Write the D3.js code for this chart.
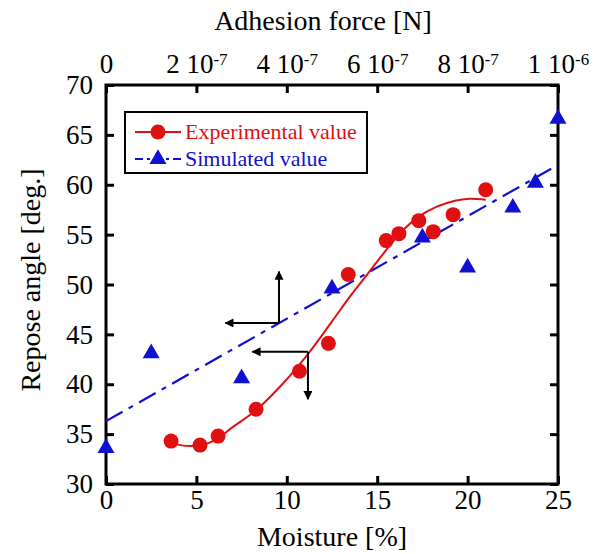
<!DOCTYPE html>
<html>
<head>
<meta charset="utf-8">
<script src="https://cdn.jsdelivr.net/npm/d3@7"></script>
<style>
  body { margin: 0; background: #fff; }
  svg text { font-family: "Liberation Serif", "DejaVu Serif", serif !important; }
</style>
</head>
<body>
<div id="chart-area"></div>
<script>
// SVG Size
let width = 605,
	height = 554;
let margin = {left: 106, top: 85, right: 47, bottom: 70};
let innerW = width - margin.left - margin.right,
	innerH = height - margin.top - margin.bottom;

// Experimental value (bottom axis: moisture [%])
let expMoisture = [3.6, 5.2, 6.2, 8.3, 10.7, 12.3, 13.4, 15.5, 16.2, 17.3, 18.1, 19.2, 21.0];
let expAngle = [34.3, 33.9, 34.8, 37.5, 41.3, 44.1, 51.0, 54.4, 55.1, 56.4, 55.3, 57.0, 59.5];

let fitMoisture = [3.6, 4.6, 5.5, 6.2, 7.0, 8.3, 9.8, 11.2, 12.5, 13.5, 14.4, 15.3, 16.3, 17.3, 18.3, 19.3, 20.1, 21.0];
let fitAngle = [34.1, 33.8, 34.0, 34.6, 35.7, 37.4, 40.1, 43.1, 46.3, 48.8, 50.9, 53.0, 55.2, 56.8, 57.8, 58.4, 58.6, 58.5];

// Simulated value (top axis: adhesion force [N])
let simForce = [0, 1.0e-7, 3.0e-7, 5.0e-7, 7.0e-7, 8.0e-7, 9.0e-7, 9.5e-7, 1.0e-6];
let simAngle = [33.8, 43.3, 40.8, 49.8, 54.9, 51.9, 57.9, 60.4, 66.8];

// linear fit of simulated value
let simFitForce = [0, 9.85e-7];
let simFitAngle = [36.3, 61.6];

// ticks
let moistureTicks = [0, 5, 10, 15, 20, 25];
let forceTicks = [0, 2e-7, 4e-7, 6e-7, 8e-7, 1e-6];
let angleTicks = [30, 35, 40, 45, 50, 55, 60, 65, 70];

// axis-direction arrows: [corner moisture, corner angle, tip moisture, tip angle]
let arrowsSim = [[9.57, 46.15, 6.6, 46.15], [9.57, 46.15, 9.57, 51.3]];
let arrowsExp = [[11.17, 43.25, 8.1, 43.25], [11.17, 43.25, 11.17, 38.5]];

let red = "#e01010",
	blue = "#1010d2";
let serif = "'Liberation Serif', 'DejaVu Serif', serif";

drawChart();

function drawChart() {
	let svg = d3.select("#chart-area")
		.append("svg")
		.attr("width", width)
		.attr("height", height)
		.attr("font-family", serif);

	let defs = svg.append("defs");
	defs.append("marker")
		.attr("id", "arrow")
		.attr("viewBox", "0 0 10 10")
		.attr("refX", 9)
		.attr("refY", 5)
		.attr("markerUnits", "userSpaceOnUse")
		.attr("markerWidth", 11)
		.attr("markerHeight", 9)
		.attr("orient", "auto")
		.append("path")
		.attr("d", "M0,0 L10,5 L0,10 z")
		.attr("fill", "#000");

	let g = svg.append("g")
		.attr("transform", "translate(" + margin.left + "," + margin.top + ")");

	let x = d3.scaleLinear().domain([0, 25]).range([0, innerW]);
	let xTop = d3.scaleLinear().domain([0, 1e-6]).range([0, innerW]);
	let y = d3.scaleLinear().domain([30, 70]).range([innerH, 0]);

	// axes
	let bottomAxis = g.append("g")
		.attr("transform", "translate(0," + innerH + ")")
		.call(d3.axisBottom(x).tickValues(moistureTicks).tickSize(-8).tickPadding(6));

	let leftAxis = g.append("g")
		.call(d3.axisLeft(y).tickValues(angleTicks).tickSize(-8).tickPadding(13));

	let topAxis = g.append("g")
		.call(d3.axisTop(xTop).tickValues(forceTicks).tickSize(-8).tickPadding(12));

	let rightAxis = g.append("g")
		.attr("transform", "translate(" + innerW + ",0)")
		.call(d3.axisRight(y).tickValues(angleTicks).tickSize(-8).tickFormat(""));

	[bottomAxis, leftAxis, topAxis, rightAxis].forEach(a => {
		a.attr("font-family", serif).attr("font-size", 27);
		a.select(".domain").remove();
		a.selectAll(".tick line").attr("stroke", "#000").attr("stroke-width", 3);
		a.selectAll(".tick text").attr("fill", "#000");
	});

	// top labels "m 10^e"
	topAxis.selectAll(".tick text").each(function(d) {
		let t = d3.select(this).text("");
		if (d === 0) { t.text("0"); return; }
		let e = Math.floor(Math.log10(d) + 1e-9);
		let m = Math.round(d / Math.pow(10, e));
		t.append("tspan").text(m + " 10");
		t.append("tspan").attr("dy", "-0.45em").attr("font-size", 17).text(e);
	});

	// frame
	g.append("rect")
		.attr("width", innerW)
		.attr("height", innerH)
		.attr("fill", "none")
		.attr("stroke", "#000")
		.attr("stroke-width", 3);

	// simulated linear fit (dash-dot)
	let simLine = d3.line()
		.x(d => xTop(d[0]))
		.y(d => y(d[1]));
	g.append("path")
		.datum(d3.zip(simFitForce, simFitAngle))
		.attr("d", simLine)
		.attr("fill", "none")
		.attr("stroke", blue)
		.attr("stroke-width", 2.2)
		.attr("stroke-dasharray", "19,7,5,7");

	// experimental fitted curve
	let expLine = d3.line()
		.x(d => x(d[0]))
		.y(d => y(d[1]))
		.curve(d3.curveCatmullRom);
	g.append("path")
		.datum(d3.zip(fitMoisture, fitAngle))
		.attr("d", expLine)
		.attr("fill", "none")
		.attr("stroke", red)
		.attr("stroke-width", 2);

	// arrows
	g.selectAll(".arrow")
		.data(arrowsSim.concat(arrowsExp))
		.enter()
		.append("line")
		.attr("class", "arrow")
		.attr("x1", d => x(d[0]))
		.attr("y1", d => y(d[1]))
		.attr("x2", d => x(d[2]))
		.attr("y2", d => y(d[3]))
		.attr("stroke", "#000")
		.attr("stroke-width", 2)
		.attr("marker-end", "url(#arrow)");

	// points
	g.selectAll(".exp")
		.data(d3.zip(expMoisture, expAngle))
		.enter()
		.append("circle")
		.attr("class", "exp")
		.attr("cx", d => x(d[0]))
		.attr("cy", d => y(d[1]))
		.attr("r", 7.5)
		.attr("fill", red);

	let tri = d3.symbol().type(d3.symbolTriangle).size(125);
	g.selectAll(".sim")
		.data(d3.zip(simForce, simAngle))
		.enter()
		.append("path")
		.attr("class", "sim")
		.attr("d", tri)
		.attr("transform", d => "translate(" + xTop(d[0]) + "," + (y(d[1]) + 2) + ")")
		.attr("fill", blue);

	// legend
	let lg = svg.append("g").attr("transform", "translate(125,112)");
	lg.append("rect")
		.attr("width", 242)
		.attr("height", 61)
		.attr("fill", "#fff")
		.attr("stroke", "#000")
		.attr("stroke-width", 2);
	lg.append("line")
		.attr("x1", 10).attr("x2", 56).attr("y1", 20).attr("y2", 20)
		.attr("stroke", red).attr("stroke-width", 2);
	lg.append("circle")
		.attr("cx", 33).attr("cy", 20).attr("r", 7.5).attr("fill", red);
	lg.append("text")
		.attr("x", 60).attr("y", 27)
		.attr("fill", red)
		.attr("font-size", 22)
		.text("Experimental value");
	lg.append("line")
		.attr("x1", 10).attr("x2", 56).attr("y1", 47).attr("y2", 47)
		.attr("stroke", blue).attr("stroke-width", 2)
		.attr("stroke-dasharray", "8,4,3,4");
	lg.append("path")
		.attr("d", tri)
		.attr("transform", "translate(33,47)")
		.attr("fill", blue);
	lg.append("text")
		.attr("x", 60).attr("y", 54)
		.attr("fill", blue)
		.attr("font-size", 22)
		.text("Simulated value");

	// axis titles
	svg.append("text")
		.attr("x", margin.left + innerW / 2)
		.attr("y", 546)
		.attr("text-anchor", "middle")
		.attr("font-size", 28)
		.text("Moisture [%]");

	svg.append("text")
		.attr("x", 323)
		.attr("y", 30)
		.attr("text-anchor", "middle")
		.attr("font-size", 28)
		.text("Adhesion force [N]");

	svg.append("text")
		.attr("transform", "translate(40," + 280 + ") rotate(-90)")
		.attr("text-anchor", "middle")
		.attr("font-size", 28)
		.text("Repose angle [deg.]");
}
</script>
</body>
</html>
